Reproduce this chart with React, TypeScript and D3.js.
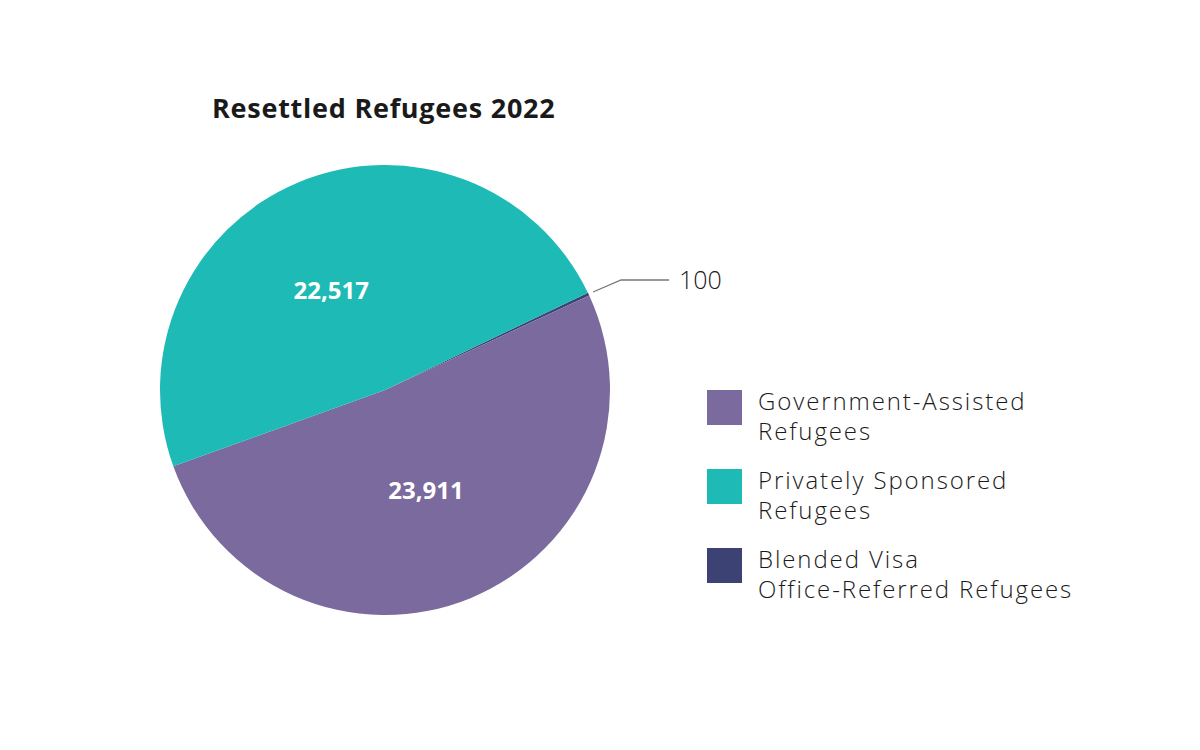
import React from "react";
import * as d3 from "d3";

const categories = [
  "Blended Visa Office-Referred Refugees",
  "Government-Assisted Refugees",
  "Privately Sponsored Refugees",
];
const values = [100, 23911, 22517];
const colors = ["#3C4374", "#7B6A9E", "#1EBAB5"];
const legendOrder = [1, 2, 0];
const legendLines = [
  ["Blended Visa", "Office-Referred Refugees"],
  ["Government-Assisted", "Refugees"],
  ["Privately Sponsored", "Refugees"],
];
const title = "Resettled Refugees 2022";

export default function App() {
  const W = 1200, H = 750;
  const cx = 385, cy = 390, R = 225;
  const start = (64.4 * Math.PI) / 180;
  const pie = d3.pie<number>().sort(null).startAngle(start).endAngle(start + 2 * Math.PI);
  const arcs = pie(values);
  const arc = d3.arc<d3.PieArcDatum<number>>().innerRadius(0).outerRadius(R);
  const labelArc = d3.arc<d3.PieArcDatum<number>>().innerRadius(0).outerRadius(R * 0.96);
  const fmt = d3.format(",");
  const font = "'Open Sans', Lato, sans-serif";

  const small = arcs[0];
  const mid = (small.startAngle + small.endAngle) / 2;
  const p0 = [Math.sin(mid) * (R + 5), -Math.cos(mid) * (R + 5)];
  const p1 = [p0[0] + 28, p0[1] - 12];
  const p2 = [p1[0] + 48, p1[1]];

  return (
    <svg width={W} height={H} style={{ position: "absolute", left: 0, top: 0, background: "#fff" }}>
      <text x={212} y={118} fontFamily={font} fontWeight={700} fontSize={27} letterSpacing={0.75} fill="#1a1a1a">
        {title}
      </text>
      <g transform={`translate(${cx},${cy})`}>
        {arcs.map((a, i) => (
          <path key={i} d={arc(a) || ""} fill={colors[i]} />
        ))}
        {arcs.map((a, i) => {
          if (i === 0) return null;
          const [x, y] = labelArc.centroid(a);
          return (
            <text key={"l" + i} x={x - (i === 2 ? 12 : 0)} y={y + 9} textAnchor="middle" fontFamily={font}
              fontWeight={700} fontSize={24} fill="#fff">
              {fmt(values[i])}
            </text>
          );
        })}
        <polyline points={[p0, p1, p2].map((p) => p.join(",")).join(" ")} fill="none"
          stroke="#777" strokeWidth={1.3} />
        <text x={p2[0] + 10} y={p2[1] + 9} fontFamily={font} fontWeight={300} fontSize={25} fill="#1a1a1a">
          {fmt(values[0])}
        </text>
      </g>
      {legendOrder.map((idx, k) => {
        const y0 = 390 + k * 79;
        return (
          <g key={"lg" + k}>
            <rect x={707} y={y0} width={35} height={35} fill={colors[idx]} />
            {legendLines[idx].map((ln, j) => (
              <text key={j} x={758} y={y0 + 20 + j * 30} fontFamily={font} fontWeight={300}
                fontSize={24} letterSpacing={1.9} fill="#1a1a1a">
                {ln}
              </text>
            ))}
          </g>
        );
      })}
    </svg>
  );
}
